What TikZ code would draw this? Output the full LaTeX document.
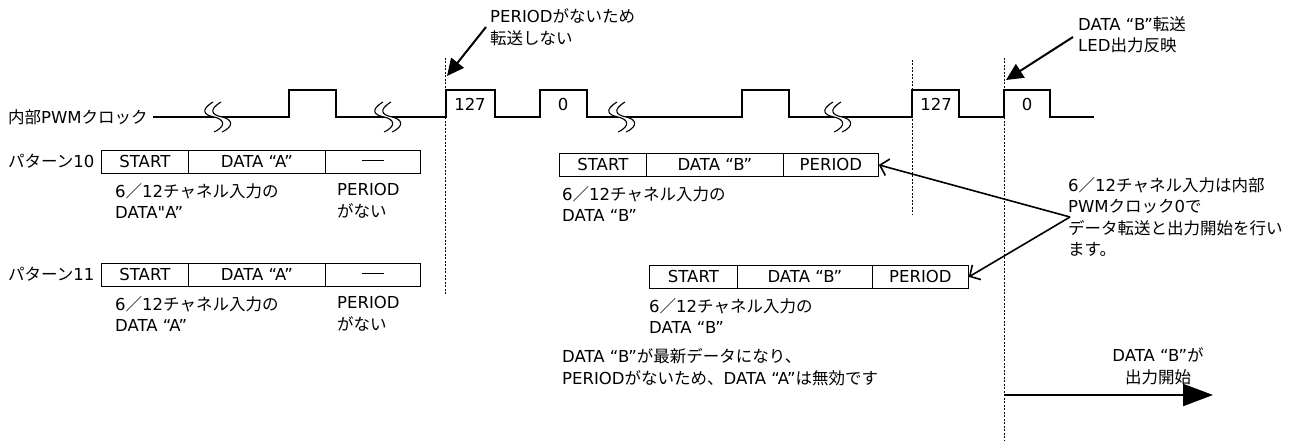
\documentclass[tikz,border=0pt]{standalone}
\usepackage{fontspec}
\setmainfont{DejaVu Sans}
\newfontfamily\jpfont{Noto Sans CJK JP}
\newfontfamily\rawfont{DejaVu Sans}
\newcommand{\J}[1]{{\jpfont #1}}
\usetikzlibrary{arrows.meta}
\begin{document}
\begin{tikzpicture}[x=1pt,y=-1pt,
  font=\fontsize{16.5}{21.5}\selectfont,
  txt/.style={anchor=west, inner sep=0pt, align=left},
  ctr/.style={inner sep=0pt, align=center},
  cell/.style={draw, line width=0.8pt, minimum height=23pt, inner sep=0pt, anchor=north west},
  wave/.style={line width=1.8pt, line join=miter},
  guide/.style={line width=0.9pt, dash pattern=on 2pt off 1.5pt},
  bigarrow/.style={line width=2pt, -{Triangle[length=17pt,width=16pt]}},
  callout/.style={line width=1.6pt, -{Straight Barb[length=8pt,width=17pt,line width=1.6pt]}},
  outarrow/.style={line width=2.2pt, -{Triangle[length=30pt,width=22pt]}},
  brk/.pic={
    \fill[white] (-1,-15) .. controls (-14,-7) and (-10,-2) .. (0,0) .. controls (10,2) and (13,9) .. (0,15)
      -- (8,15) .. controls (21,9) and (18,2) .. (8,0) .. controls (-2,-2) and (-6,-7) .. (7,-15) -- cycle;
    \draw[line width=1.1pt] (-1,-15) .. controls (-14,-7) and (-10,-2) .. (0,0) .. controls (10,2) and (13,9) .. (0,15);
    \draw[line width=1.1pt] (7,-15) .. controls (-6,-7) and (-2,-2) .. (8,0) .. controls (18,2) and (21,9) .. (8,15);
  }]
\useasboundingbox (0,0) rectangle (1301,446);

% clock label
\node[txt] (clk) at (8,117) {\J{内部}PWM\J{クロック}};

% waveform
\draw[wave] (153,117) -- (289,117) -- (289,90) -- (336,90) -- (336,117)
  -- (446,117) -- (446,90) -- (495,90) -- (495,117)
  -- (540,117) -- (540,90) -- (587,90) -- (587,117)
  -- (742,117) -- (742,90) -- (789,90) -- (789,117)
  -- (912,117) -- (912,90) -- (959,90) -- (959,117)
  -- (1004,117) -- (1004,90) -- (1050,90) -- (1050,117) -- (1094,117);
\pic at (214,117) {brk};
\pic at (384,117) {brk};
\pic at (618,117) {brk};
\pic at (834,117) {brk};

\node[ctr] (p1) at (470,104) {127};
\node[ctr] (p2) at (563,104) {0};
\node[ctr] (p3) at (936,104) {127};
\node[ctr] (p4) at (1027,104) {0};

% guide lines
\draw[guide] (445,58) -- (445,296);
\draw[guide] (912,60) -- (912,215);
\draw[guide] (1004,58) -- (1004,440);

% top annotations
\node[txt] (n1) at (490,27) {PERIOD\J{がないため}\\\J{転送しない}};
\coordinate (n1s) at (486,27);
\coordinate (n1e) at (447,76);
\draw[bigarrow] (n1s) -- (n1e);

\node[txt] (n2) at (1078,35) {DATA “B”\J{転送}\\LED\J{出力反映}};
\coordinate (n2s) at (1073,37);
\coordinate (n2e) at (1006,80);
\draw[bigarrow] (n2s) -- (n2e);

% pattern 10
\node[txt] (l10) at (8,161) {\J{パターン}10};
\node[cell, minimum width=87pt] (a1) at (101,150) {START};
\node[cell, minimum width=137pt] (a2) at (188,150) {DATA “A”};
\node[cell, minimum width=95pt] (a3) at (325,150) {\rule[0.3ex]{22pt}{0.6pt}};
\node[txt] (a1t) at (115,201) {6\J{／}12\J{チャネル入力の}\\DATA{\rawfont"}A”};
\node[txt] (a3t) at (337,201) {PERIOD\\\J{がない}};

% pattern 11
\node[txt] (l11) at (8,274) {\J{パターン}11};
\node[cell, minimum width=87pt] (c1) at (101,263) {START};
\node[cell, minimum width=137pt] (c2) at (188,263) {DATA “A”};
\node[cell, minimum width=95pt] (c3) at (325,263) {\rule[0.3ex]{22pt}{0.6pt}};
\node[txt] (c1t) at (115,314) {6\J{／}12\J{チャネル入力の}\\DATA “A”};
\node[txt] (c3t) at (337,314) {PERIOD\\\J{がない}};

% data B first
\node[cell, minimum width=87pt] (b1) at (559,153) {START};
\node[cell, minimum width=137pt] (b2) at (646,153) {DATA “B”};
\node[cell, minimum width=95pt] (b3) at (783,153) {PERIOD};
\node[txt] (b1t) at (562,204) {6\J{／}12\J{チャネル入力の}\\DATA “B”};

% data B second
\node[cell, minimum width=88pt] (d1) at (649,265) {START};
\node[cell, minimum width=135pt] (d2) at (737,265) {DATA “B”};
\node[cell, minimum width=96pt] (d3) at (872,265) {PERIOD};
\node[txt] (d1t) at (649,316) {6\J{／}12\J{チャネル入力の}\\DATA “B”};

\node[txt] (ex) at (562,367) {DATA “B”\J{が最新データになり、}\\PERIOD\J{がないため、}DATA “A”\J{は無効です}};

% right note
\node[txt] (note) at (1068,217) {6\J{／}12\J{チャネル入力は内部}\\PWM\J{クロック}0\J{で}\\\J{データ転送と出力開始を行い}\\\J{ます。}};
\coordinate (nv) at (1070,217);
\draw[callout] (nv) -- (b3.east);
\draw[callout] (nv) -- (d3.east);

% output start
\coordinate (os) at (1005,395);
\coordinate (oe) at (1213,395);
\draw[outarrow] (os) -- (oe);
\node[ctr] (ot) at (1158,366) {DATA “B”\J{が}\\\J{出力開始}};
\end{tikzpicture}
\end{document}
